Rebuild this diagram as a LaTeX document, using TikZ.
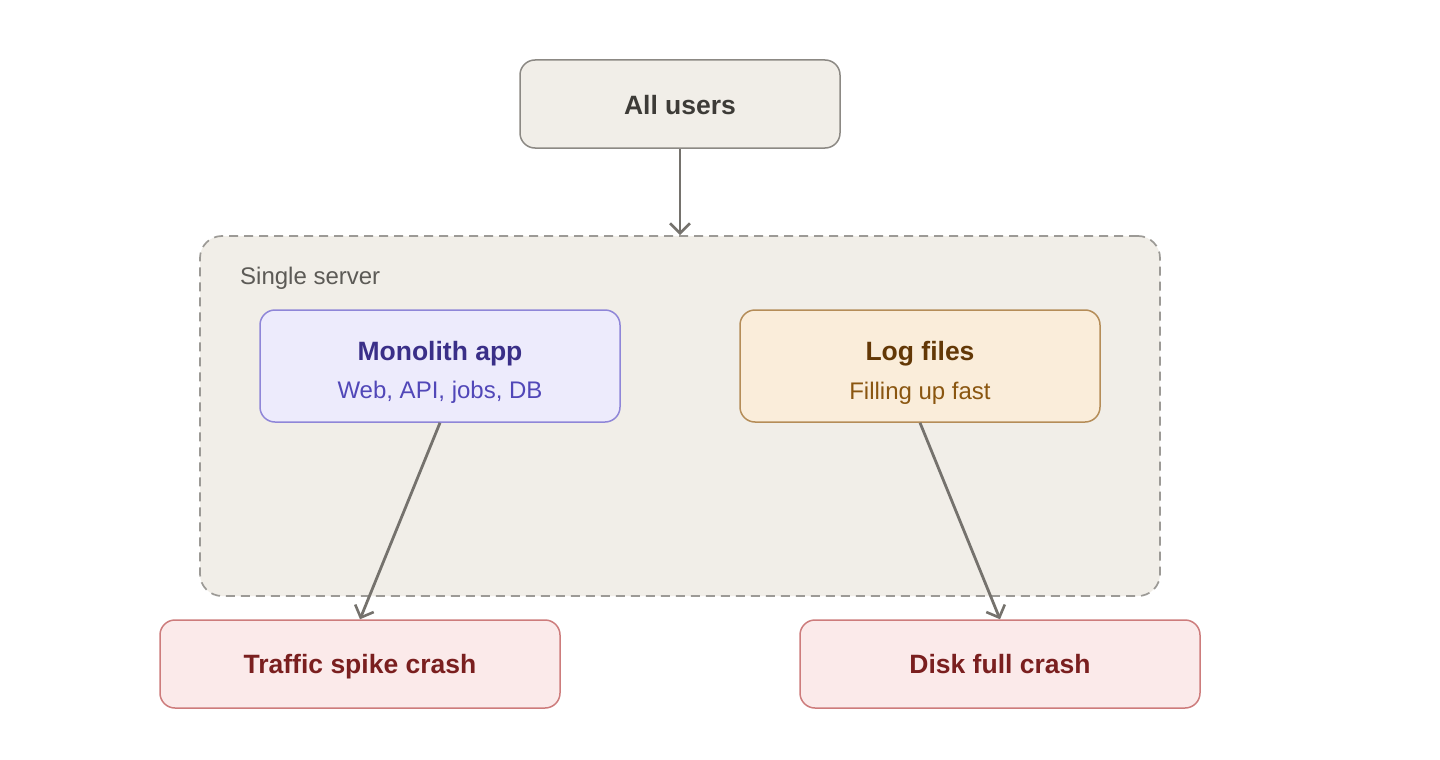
\documentclass[tikz,border=0pt]{standalone}
\usepackage{fontspec}
\setmainfont{Liberation Sans}
\usetikzlibrary{arrows.meta}
\definecolor{bgbox}{HTML}{F1EEE8}
\definecolor{bgline}{HTML}{8C8984}
\definecolor{dashline}{HTML}{9C9A96}
\definecolor{usertext}{HTML}{3D3B37}
\definecolor{monofill}{HTML}{EDEBFC}
\definecolor{monoline}{HTML}{8F86D8}
\definecolor{monotitle}{HTML}{3A2F88}
\definecolor{monosub}{HTML}{5147B8}
\definecolor{logfill}{HTML}{FAEDDA}
\definecolor{logline}{HTML}{B58D58}
\definecolor{logtitle}{HTML}{633806}
\definecolor{logsub}{HTML}{8A5610}
\definecolor{crashfill}{HTML}{FBEAEA}
\definecolor{crashline}{HTML}{CD7C7C}
\definecolor{crashtext}{HTML}{7A1F1F}
\definecolor{arrowc}{HTML}{75726D}
\definecolor{lblc}{HTML}{5C5A56}
\begin{document}
\begin{tikzpicture}[x=1pt,y=-1pt,
  card/.style={rounded corners=15pt, line width=1.5pt, inner sep=0pt, anchor=center},
  titletxt/.style={font=\fontsize{26.5}{30}\selectfont\bfseries, inner sep=0pt, anchor=base},
  subtxt/.style={font=\fontsize{24}{28}\selectfont, inner sep=0pt, anchor=base},
  conn/.style={draw=arrowc, line width=2.8pt, -{Straight Barb[length=10pt,width=20pt,line width=2.6pt]}}
]
\useasboundingbox (0,0) rectangle (1440,760);
\fill[white] (0,0) rectangle (1440,760);

% container
\node[card, rounded corners=22pt, fill=bgbox, draw=dashline, dash pattern=on 9pt off 6pt, line width=1.7pt,
      minimum width=960pt, minimum height=360pt] (server) at (680,416) {};
\node[subtxt, anchor=base west, text=lblc] (serverlbl) at (240,284) {Single server};

% top box
\node[card, fill=bgbox, draw=bgline, minimum width=320pt, minimum height=88pt] (users) at (680,104) {};
\node[titletxt, text=usertext] (userst) at (680,114) {All users};

% monolith
\node[card, fill=monofill, draw=monoline, minimum width=360pt, minimum height=112pt] (mono) at (440,366) {};
\node[titletxt, text=monotitle] (monot) at (440,360) {Monolith app};
\node[subtxt, text=monosub] (monos) at (440,398) {Web, API, jobs, DB};

% logs
\node[card, fill=logfill, draw=logline, minimum width=360pt, minimum height=112pt] (logs) at (920,366) {};
\node[titletxt, text=logtitle] (logst) at (920,360) {Log files};
\node[subtxt, text=logsub] (logss) at (920,399) {Filling up fast};

% crashes
\node[card, fill=crashfill, draw=crashline, minimum width=400pt, minimum height=88pt] (traffic) at (360,664) {};
\node[titletxt, text=crashtext] (traffict) at (360,673) {Traffic spike crash};
\node[card, fill=crashfill, draw=crashline, minimum width=400pt, minimum height=88pt] (disk) at (1000,664) {};
\node[titletxt, text=crashtext] (diskt) at (1000,673) {Disk full crash};

% connectors
\draw[conn] (users.south) -- (server.north);
\draw[conn] (mono.south) -- (traffic.north);
\draw[conn] (logs.south) -- (disk.north);
\end{tikzpicture}
\end{document}
